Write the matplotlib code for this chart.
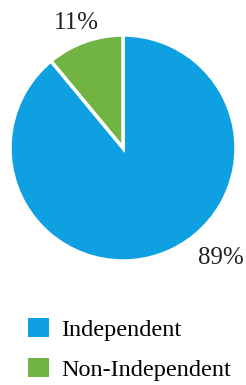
import matplotlib.pyplot as plt

labels = ["Independent", "Non-Independent"]
shares = [89, 11]
pct_text = ["89%", "11%"]
colors = ["#0fa0e2", "#72b443"]

serif = ['Liberation Serif', 'DejaVu Serif']
plt.rcParams['font.family'] = serif

fig = plt.figure(figsize=(2.46, 3.85), dpi=100)

# pie: centre ~(123,148) px, radius ~113 px
W, H = 246, 385
cx, cy, r = 123, 148, 113
ax = fig.add_axes([(cx - r) / W, (H - cy - r) / H, 2 * r / W, 2 * r / H])
wedges, _ = ax.pie(shares, colors=colors, startangle=90, counterclock=False,
                   wedgeprops=dict(edgecolor="white", linewidth=2.5))
ax.set_xlim(-1, 1)
ax.set_ylim(-1, 1)
ax.set_aspect("equal")
ax.axis("off")

ax.text(-0.41, 1.105, pct_text[1], fontsize=18, family=serif, color="#222222",
        ha="center", va="center")
ax.text(0.87, -0.975, pct_text[0], fontsize=18, family=serif, color="#222222",
        ha="center", va="center")

fig.legend(wedges, labels, loc="upper left", bbox_to_anchor=(0.115, 0.175),
           frameon=False, prop=dict(family=serif, size=17.5),
           handlelength=0.84, handleheight=0.84,
           handletextpad=0.5, labelspacing=0.72, borderaxespad=0, borderpad=0)
for h in fig.legends[0].legend_handles:
    h.set_edgecolor("none")

fig.savefig("out.png", dpi=100)
